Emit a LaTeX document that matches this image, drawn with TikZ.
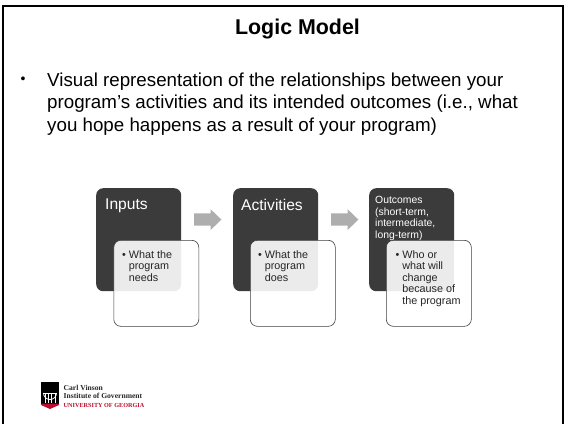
\documentclass[tikz,border=0pt]{standalone}
\usepackage{fontspec}
\setmainfont{Liberation Sans}
\newfontfamily\logofont{Liberation Serif}
\definecolor{darkbox}{HTML}{3B3B3B}
\definecolor{arrowgrey}{HTML}{AEAEAE}
\definecolor{ugared}{HTML}{BA0C2F}
\tikzset{
  headbox/.style={draw=none,fill=darkbox,rounded corners=7pt,minimum width=85pt,minimum height=103pt,anchor=north west,inner sep=0pt},
  detailbox/.style={draw=black!75,line width=0.6pt,fill=white,fill opacity=0.9,text opacity=1,rounded corners=7pt,minimum width=85pt,minimum height=86pt,anchor=north west,inner sep=0pt},
  headtext/.style={text=white,anchor=north west,inner sep=0pt,font=\fontsize{15.6}{16}\selectfont},
  smallhead/.style={text=white,anchor=north west,inner sep=0pt,align=left,font=\fontsize{10.4}{11.7}\selectfont},
  detailtext/.style={text=black!85,anchor=north west,inner sep=0pt,align=left,font=\fontsize{10.8}{11.5}\selectfont},
  flowarrow/.style={fill=arrowgrey,draw=none},
}
\begin{document}
\begin{tikzpicture}[x=1pt,y=-1pt]
\useasboundingbox (0,0) rectangle (564,424);
\draw[black,line width=2pt] (3,424) -- (3,6) -- (562.5,6) -- (562.5,424);
\node[anchor=base,inner sep=0pt,font=\bfseries\fontsize{21.4}{24}\selectfont] (title) at (297.5,34) {Logic Model};
\node[anchor=north west,inner sep=0pt,font=\fontsize{14}{21}\selectfont] (bullet) at (20.5,76.5) {•};
\node[anchor=north west,inner sep=0pt,align=left,font=\fontsize{18.75}{22.5}\selectfont] (body) at (47,72.3) {Visual representation of the relationships between your\\program’s activities and its intended outcomes (i.e., what\\you hope happens as a result of your program)};

\node[headbox] (h1) at (96,188) {};
\node[headbox] (h2) at (233,188) {};
\node[headbox] (h3) at (369,188) {};
\node[headtext] (t1) at (105,199) {Inputs};
\node[headtext] (t2) at (241,199) {Activities};
\node[smallhead] (t3) at (375,196) {Outcomes\\(short-term,\\intermediate,\\long-term)};

\foreach \ax in {194,331}{
  \fill[flowarrow] (\ax,213.3) -- ++(16.7,0) -- ++(0,-4) -- ++(10.6,10.2) -- ++(-10.6,10.5) -- ++(0,-4.3) -- ++(-16.7,0) -- cycle;
}

\node[detailbox] (d1) at (113.5,240) {};
\node[detailbox] (d2) at (250,240) {};
\node[detailbox] (d3) at (386,240) {};
\node[detailtext] (x1) at (122,250) {• What the\\\hspace*{6.6pt}program\\\hspace*{6.6pt}needs};
\node[detailtext] (x2) at (258,250) {• What the\\\hspace*{6.6pt}program\\\hspace*{6.6pt}does};
\node[detailtext] (x3) at (395.5,250) {• Who or\\\hspace*{6.6pt}what will\\\hspace*{6.6pt}change\\\hspace*{6.6pt}because of\\\hspace*{6.6pt}the program};

\fill[black] (41,382) rectangle (59,404);
\draw[white,line width=0.8pt] (43.5,393) arc[start angle=180,end angle=0,radius=6.5];
\draw[white,line width=0.8pt] (43.5,393.5) -- (56.5,393.5);
\foreach \cx in {45,48.3,51.7,55}{\draw[white,line width=0.7pt] (\cx,394) -- (\cx,402.5);}
\fill[ugared] (41,403.5) -- (59,403.5) -- (59,405) -- (50,409) -- (41,405) -- cycle;
\node[anchor=north west,inner sep=0pt,align=left,text=black!85,font=\logofont\bfseries\fontsize{7.6}{8.4}\selectfont] (logo) at (63.5,385) {Carl Vinson\\Institute of Government};
\node[anchor=north west,inner sep=0pt,text=ugared,font=\logofont\bfseries\fontsize{6.2}{7}\selectfont] (uga) at (63.5,403) {UNIVERSITY OF GEORGIA};
\end{tikzpicture}
\end{document}
